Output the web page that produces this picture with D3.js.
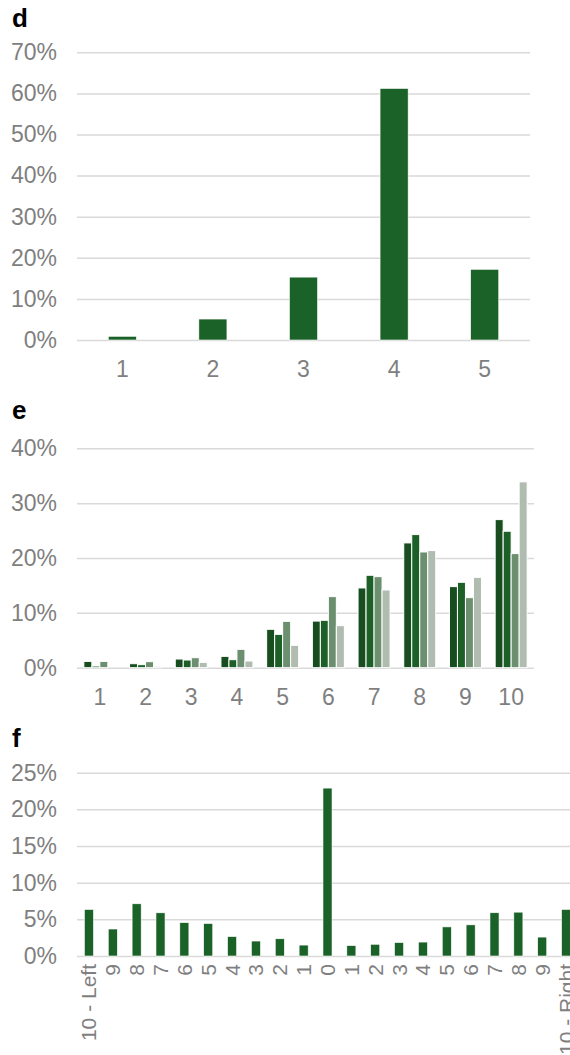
<!DOCTYPE html>
<html>
<head>
<meta charset="utf-8">
<script src="https://cdn.jsdelivr.net/npm/d3@7/dist/d3.min.js"></script>
<style>
  html, body { margin: 0; padding: 0; background: #fff; }
  svg { display: block; font-family: "Liberation Sans", Arial, sans-serif; }
</style>
</head>
<body>
<svg id="chart" width="570" height="1055"></svg>
<script>
// Panel d: five-point scale
const dCategories = ["1", "2", "3", "4", "5"];
const dValues = [0.009, 0.051, 0.153, 0.612, 0.172];
const dTicks = [0, 0.1, 0.2, 0.3, 0.4, 0.5, 0.6, 0.7];

// Panel e: ten-point scale, four series
const eCategories = ["1", "2", "3", "4", "5", "6", "7", "8", "9", "10"];
const eSeries1 = [0.0115, 0.0073, 0.0158, 0.0207, 0.070, 0.085, 0.1454, 0.2275, 0.1478, 0.270];
const eSeries2 = [0.003, 0.0055, 0.014, 0.0146, 0.0608, 0.0864, 0.1685, 0.2427, 0.1557, 0.2488];
const eSeries3 = [0.0115, 0.011, 0.0182, 0.0335, 0.0845, 0.1296, 0.166, 0.211, 0.1277, 0.208];
const eSeries4 = [0.0, 0.0025, 0.0097, 0.0122, 0.0408, 0.0766, 0.1417, 0.2135, 0.1648, 0.3388];
const eTicks = [0, 0.1, 0.2, 0.3, 0.4];

// Panel f: left-right scale
const fCategories = ["10 - Left", "9", "8", "7", "6", "5", "4", "3", "2", "1", "0",
                     "1", "2", "3", "4", "5", "6", "7", "8", "9", "10 - Right"];
const fValues = [0.0635, 0.0368, 0.0712, 0.0589, 0.0455, 0.0443, 0.0265, 0.0204, 0.0235, 0.0149, 0.229,
                 0.0142, 0.016, 0.0183, 0.019, 0.0397, 0.0425, 0.059, 0.0598, 0.0258, 0.0635];
const fTicks = [0, 0.05, 0.1, 0.15, 0.2, 0.25];

const green = "#1b6228";
const eColors = ["#174d1f", "#1c5f27", "#6c8f6f", "#afbcaf"];
const gridColor = "#d9d9d9";
const labelColor = "#7f7f7f";
const fontStack = "Liberation Sans, Arial, sans-serif";
const pct = d3.format(".0%");

const svg = d3.select("#chart");

function title(text, y) {
  svg.append("text")
    .attr("x", 12).attr("y", y)
    .attr("font-size", 26).attr("font-weight", "bold").attr("fill", "#000")
    .text(text);
}

function yAxis(y, ticks, x0, x1) {
  const g = svg.append("g").attr("transform", `translate(${x0},0)`)
    .call(d3.axisLeft(y).tickValues(ticks).tickFormat(pct)
      .tickSizeInner(-(x1 - x0)).tickSizeOuter(0).tickPadding(20));
  g.select(".domain").remove();
  g.selectAll("line").attr("stroke", gridColor).attr("stroke-width", 1.5);
  g.selectAll("text").attr("fill", labelColor).attr("font-size", 23)
    .attr("font-family", fontStack);
  return g;
}

function xAxis(x, y0, pad) {
  const g = svg.append("g").attr("transform", `translate(0,${y0})`)
    .call(d3.axisBottom(x).tickSize(0).tickPadding(pad));
  g.select(".domain").remove();
  g.selectAll("text").attr("fill", labelColor).attr("font-size", 23)
    .attr("font-family", fontStack);
  return g;
}

// ---- Panel d ----
title("d", 27);
{
  const x0 = 77, x1 = 530, yBase = 340, yTop = 52.3;
  const x = d3.scaleBand().domain(dCategories).range([x0, x1]).paddingInner(0.69).paddingOuter(0.345);
  const y = d3.scaleLinear().domain([0, 0.7]).range([yBase, yTop]);
  yAxis(y, dTicks, x0, x1);
  svg.append("g").selectAll("rect").data(dValues).join("rect")
    .attr("x", (d, i) => x(dCategories[i]))
    .attr("width", x.bandwidth())
    .attr("y", d => y(d))
    .attr("height", d => yBase - y(d))
    .attr("fill", green).attr("stroke", "#fff").attr("stroke-width", 0.6);
  xAxis(x, yBase, 21);
}

// ---- Panel e ----
title("e", 419);
{
  const x0 = 77, x1 = 534, yBase = 667.7, yTop = 448.3;
  const x = d3.scaleBand().domain(eCategories).range([x0, x1]).paddingInner(0.3).paddingOuter(0.15);
  const series = [eSeries1, eSeries2, eSeries3, eSeries4];
  const xs = d3.scaleBand().domain(d3.range(series.length)).range([0, x.bandwidth()]);
  const y = d3.scaleLinear().domain([0, 0.4]).range([yBase, yTop]);
  yAxis(y, eTicks, x0, x1);
  const groups = svg.append("g").selectAll("g").data(eCategories).join("g")
    .attr("transform", c => `translate(${x(c)},0)`);
  groups.selectAll("rect")
    .data((c, i) => series.map((s, k) => ({ k, v: s[i] })))
    .join("rect")
    .attr("x", d => xs(d.k))
    .attr("width", xs.bandwidth())
    .attr("y", d => y(d.v))
    .attr("height", d => yBase - y(d.v))
    .attr("fill", d => eColors[d.k]).attr("stroke", "#fff").attr("stroke-width", 1);
  xAxis(x, yBase, 21);
}

// ---- Panel f ----
title("f", 746.5);
{
  const x0 = 77, x1 = 578, yBase = 956, yTop = 772.7;
  const x = d3.scaleBand().domain(d3.range(fCategories.length)).range([x0, x1]).paddingInner(0.62).paddingOuter(0.31);
  const y = d3.scaleLinear().domain([0, 0.25]).range([yBase, yTop]);
  yAxis(y, fTicks, x0, x1);
  svg.append("g").selectAll("rect").data(fValues).join("rect")
    .attr("x", (d, i) => x(i))
    .attr("width", x.bandwidth())
    .attr("y", d => y(d))
    .attr("height", d => yBase - y(d))
    .attr("fill", green).attr("stroke", "#fff").attr("stroke-width", 0.6);
  const g = svg.append("g").attr("transform", `translate(0,${yBase})`)
    .call(d3.axisBottom(x).tickSize(0).tickFormat(i => fCategories[i]));
  g.select(".domain").remove();
  g.selectAll("text")
    .attr("fill", labelColor).attr("font-size", 21)
    .attr("font-family", fontStack)
    .attr("text-anchor", "end")
    .attr("transform", "rotate(-90)")
    .attr("x", -8).attr("y", 0).attr("dy", "0.36em");
}
</script>
</body>
</html>
